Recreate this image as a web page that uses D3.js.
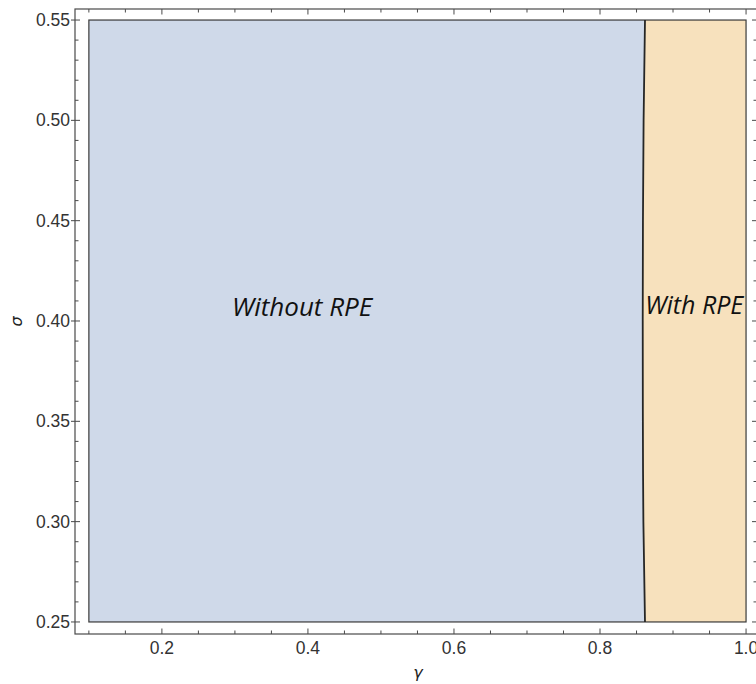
<!DOCTYPE html>
<html>
<head>
<meta charset="utf-8">
<script src="https://cdn.jsdelivr.net/npm/d3@7"></script>
<style>
  html, body { margin: 0; padding: 0; background: #fff; overflow: hidden; }
  svg { display: block; }
</style>
</head>
<body>
<svg id="chart" width="756" height="684"></svg>
<script>
// ---- data ----
const gammaRange = [0.1, 1.0];
const sigmaRange = [0.25, 0.55];
// boundary between regions: gamma value at each sigma
const boundarySigma = [0.25, 0.30, 0.35, 0.40, 0.45, 0.50, 0.55];
const boundaryGamma = [0.8616, 0.8594, 0.8587, 0.8585, 0.8588, 0.8597, 0.8616];
const regionLabels = ["Without RPE", "With RPE"];
const labelGamma = [0.392, 0.929];
const labelSigma = [0.405, 0.406];
const xMajorTicks = [0.2, 0.4, 0.6, 0.8, 1.0];
const yMajorTicks = [0.25, 0.30, 0.35, 0.40, 0.45, 0.50, 0.55];

// ---- layout ----
const svg = d3.select("#chart");
const frame = { left: 75, right: 757, top: 9, bottom: 634 };
const x = d3.scaleLinear().domain([0.081, 1.015]).range([frame.left, frame.right]);
const y = d3.scaleLinear().domain([0.2440, 0.5555]).range([frame.bottom, frame.top]);

const blue = "#cfd9e9";
const orange = "#f7e1bd";
const boundaryColor = "#262626";
const frameColor = "#4a4a4a";

const pts = boundarySigma.map((s, i) => [boundaryGamma[i], s]);
const curve = d3.line().x(d => x(d[0])).y(d => y(d[1])).curve(d3.curveMonotoneY);

const leftPath = "M" + x(gammaRange[0]) + "," + y(sigmaRange[0]) +
  "L" + curve(pts).slice(1) + "L" + x(gammaRange[0]) + "," + y(sigmaRange[1]) + "Z";
const rightPath = "M" + x(gammaRange[1]) + "," + y(sigmaRange[0]) +
  "L" + curve(pts).slice(1) + "L" + x(gammaRange[1]) + "," + y(sigmaRange[1]) + "Z";

svg.append("path").attr("d", rightPath).attr("fill", orange).attr("stroke", "none");
svg.append("path").attr("d", leftPath).attr("fill", blue).attr("stroke", "none");

// outer region border
svg.append("rect")
  .attr("x", x(gammaRange[0])).attr("y", y(sigmaRange[1]))
  .attr("width", x(gammaRange[1]) - x(gammaRange[0]))
  .attr("height", y(sigmaRange[0]) - y(sigmaRange[1]))
  .attr("fill", "none").attr("stroke", "#3a3a3a").attr("stroke-width", 1.2);

// boundary curve
svg.append("path").attr("d", curve(pts)).attr("fill", "none")
  .attr("stroke", boundaryColor).attr("stroke-width", 1.8);

// region labels
const labelSizes = [26, 25];
svg.selectAll("text.region").data(regionLabels).join("text")
  .attr("class", "region")
  .attr("x", (d, i) => x(labelGamma[i]))
  .attr("y", (d, i) => y(labelSigma[i]))
  .attr("dy", "0.2em")
  .attr("text-anchor", "middle")
  .attr("font-family", "'Open Sans', 'Noto Sans', sans-serif")
  .attr("font-style", "italic")
  .attr("font-size", (d, i) => labelSizes[i])
  .attr("fill", "#111")
  .text(d => d);

// ---- frame ----
const g = svg.append("g");
g.append("rect")
  .attr("x", frame.left).attr("y", frame.top)
  .attr("width", frame.right - frame.left).attr("height", frame.bottom - frame.top)
  .attr("fill", "none").attr("stroke", frameColor).attr("stroke-width", 1.2);

const xMinor = d3.range(0.1, 1.0001, 0.05).map(v => +v.toFixed(2));
const yMinor = d3.range(0.25, 0.5501, 0.01).map(v => +v.toFixed(2));
const isMajorX = v => xMajorTicks.some(t => Math.abs(t - v) < 1e-6);
const isMajorY = v => yMajorTicks.some(t => Math.abs(t - v) < 1e-6);

// bottom / top ticks
xMinor.forEach(v => {
  const len = isMajorX(v) ? 5.5 : 3.5;
  g.append("line").attr("x1", x(v)).attr("x2", x(v))
    .attr("y1", frame.bottom).attr("y2", frame.bottom - len)
    .attr("stroke", frameColor).attr("stroke-width", 1);
  g.append("line").attr("x1", x(v)).attr("x2", x(v))
    .attr("y1", frame.top).attr("y2", frame.top + len)
    .attr("stroke", frameColor).attr("stroke-width", 1);
});
// left / right ticks
yMinor.forEach(v => {
  const maj = isMajorY(v);
  g.append("line")
    .attr("x1", maj ? frame.left - 4 : frame.left).attr("x2", frame.left + (maj ? 5 : 3.5))
    .attr("y1", y(v)).attr("y2", y(v))
    .attr("stroke", frameColor).attr("stroke-width", 1);
  g.append("line")
    .attr("x1", frame.right).attr("x2", frame.right - (maj ? 5 : 3.5))
    .attr("y1", y(v)).attr("y2", y(v))
    .attr("stroke", frameColor).attr("stroke-width", 1);
});

// tick labels
const tickFont = "'Liberation Sans', Arial, sans-serif";
g.selectAll("text.xt").data(xMajorTicks).join("text")
  .attr("class", "xt")
  .attr("x", d => x(d)).attr("y", 654)
  .attr("text-anchor", "middle")
  .attr("font-family", tickFont).attr("font-size", 17.5)
  .attr("fill", "#333")
  .text(d => d.toFixed(1));

g.selectAll("text.yt").data(yMajorTicks).join("text")
  .attr("class", "yt")
  .attr("x", frame.left - 5).attr("y", d => y(d))
  .attr("text-anchor", "end")
  .attr("dominant-baseline", "central")
  .attr("font-family", tickFont).attr("font-size", 17.5)
  .attr("fill", "#333")
  .text(d => d.toFixed(2));

// axis labels
svg.append("text")
  .attr("x", (frame.left + frame.right) / 2 + 2).attr("y", 678)
  .attr("text-anchor", "middle")
  .attr("font-family", "'DejaVu Sans', sans-serif").attr("font-style", "italic")
  .attr("font-size", 16).attr("fill", "#222")
  .text("γ");

svg.append("text")
  .attr("transform", `translate(22, ${(frame.top + frame.bottom) / 2}) rotate(-90)`)
  .attr("text-anchor", "middle")
  .attr("font-family", "'DejaVu Sans', sans-serif").attr("font-style", "italic")
  .attr("font-size", 16).attr("fill", "#222")
  .text("σ");
</script>
</body>
</html>
